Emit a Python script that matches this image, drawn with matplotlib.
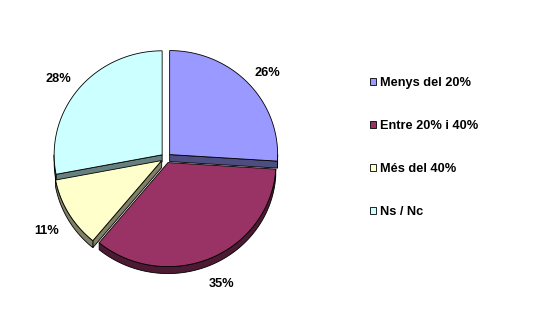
import numpy as np
import matplotlib
matplotlib.use("Agg")
import matplotlib.pyplot as plt
from matplotlib.patches import Polygon, Patch

plt.rcParams['font.family'] = ['Liberation Sans', 'DejaVu Sans']

labels = ["Menys del 20%", "Entre 20% i 40%", "Més del 40%", "Ns / Nc"]
values = [26, 35, 11, 28]
top_colors = ["#9999FF", "#993366", "#FFFFCC", "#CCFFFF"]
side_colors = ["#4D4D80", "#4D1A33", "#808066", "#668080"]

# pie geometry in pixels
cx, cy = 166, 158
rx, ry = 108, 104
depth = 7
explode = 5
label_r = 1.25

fig = plt.figure(figsize=(5.59, 3.29), dpi=100)
ax = fig.add_axes([0, 0, 1, 1])
ax.set_xlim(0, 559)
ax.set_ylim(329, 0)
ax.axis("off")

fracs = np.array(values) / sum(values)
starts = 90 - 360 * np.concatenate([[0], np.cumsum(fracs)[:-1]])
ends = starts - 360 * fracs


def pt(ox, oy, th, dz=0):
    t = np.radians(th)
    return (ox + rx * np.cos(t), oy - ry * np.sin(t) + dz)


slices = []
for i in range(len(values)):
    mid = np.radians((starts[i] + ends[i]) / 2)
    slices.append((cx + explode * np.cos(mid), cy - explode * np.sin(mid)))

lw = 0.6
# radial walls that face the viewer
for i, (ox, oy) in enumerate(slices):
    for phi, is_end in ((starts[i], False), (ends[i], True)):
        t = np.radians(phi)
        ny = -np.cos(t) if is_end else np.cos(t)
        if ny < -1e-3:
            rim = pt(ox, oy, phi)
            quad = [(ox, oy), rim, (rim[0], rim[1] + depth), (ox, oy + depth)]
            ax.add_patch(Polygon(quad, closed=True, fc=side_colors[i], ec="black", lw=lw, zorder=1))

# outer walls (front half only)
for i, (ox, oy) in enumerate(slices):
    a0, a1 = ends[i], starts[i]
    for off in (0, 360):
        lo, hi = max(a0 + off, -180), min(a1 + off, 0)
        if hi <= lo:
            continue
        th = np.linspace(lo, hi, 60)
        top = [pt(ox, oy, t) for t in th]
        bot = [pt(ox, oy, t, depth) for t in th[::-1]]
        ax.add_patch(Polygon(top + bot, closed=True, fc=side_colors[i], ec="black", lw=lw, zorder=2))

# top faces
for i, (ox, oy) in enumerate(slices):
    th = np.linspace(starts[i], ends[i], 120)
    poly = [(ox, oy)] + [pt(ox, oy, t) for t in th]
    ax.add_patch(Polygon(poly, closed=True, fc=top_colors[i], ec="black", lw=lw, zorder=3))

# percentage labels
for i in range(len(values)):
    mid = np.radians((starts[i] + ends[i]) / 2)
    lx = cx + label_r * 1.03 * rx * np.cos(mid)
    ly = cy - label_r * ry * np.sin(mid) + 4
    if np.sin(mid) < 0:
        ly += depth - 4
    ax.text(lx, ly, f"{values[i]}%", ha="center", va="center",
            fontsize=9.2, fontweight="bold", zorder=4)

handles = [Patch(fc=c, ec="black", lw=0.6) for c in top_colors]
fig.legend(handles, labels, loc="upper left", bbox_to_anchor=(370 / 559, 1 - 77 / 329),
           frameon=False, prop={"size": 9.2, "weight": "bold"},
           handlelength=0.5, handleheight=0.5, handletextpad=0.3,
           labelspacing=2.42, borderpad=0, borderaxespad=0)

fig.savefig("out.png", dpi=100)
